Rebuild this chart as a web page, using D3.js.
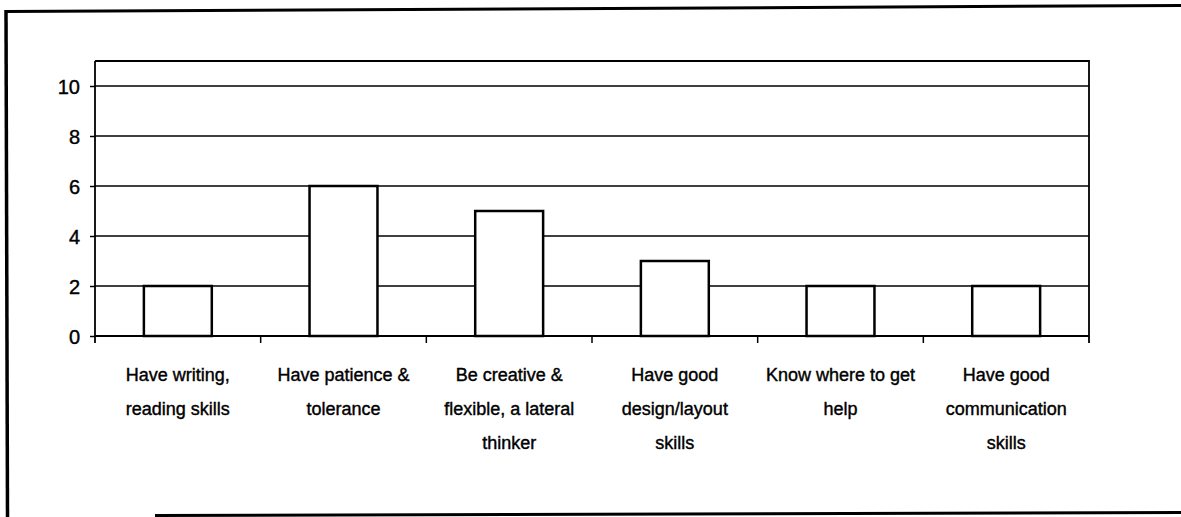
<!DOCTYPE html>
<html>
<head>
<meta charset="utf-8">
<script src="https://cdn.jsdelivr.net/npm/d3@7"></script>
<style>
  body { margin: 0; background: #fff; }
  svg { display: block; }
  text { font-family: "Liberation Sans", Arial, sans-serif; fill: #000; stroke: #000; stroke-width: 0.4px; }
</style>
</head>
<body>
<svg id="chart" width="1181" height="517"></svg>
<script>
// data
var categories = [
  'Have writing, reading skills',
  'Have patience & tolerance',
  'Be creative & flexible, a lateral thinker',
  'Have good design/layout skills',
  'Know where to get help',
  'Have good communication skills'
];
// how the labels wrap under each bar
var labelLines = [
  ['Have writing,', 'reading skills'],
  ['Have patience &', 'tolerance'],
  ['Be creative &', 'flexible, a lateral', 'thinker'],
  ['Have good', 'design/layout', 'skills'],
  ['Know where to get', 'help'],
  ['Have good', 'communication', 'skills']
];
var values = [2, 6, 5, 3, 2, 2];
var yTicks = [0, 2, 4, 6, 8, 10];

var svg = d3.select('#chart');

// outer frame (scanned page border)
svg.append('line')
  .attr('x1', 5).attr('y1', 11.5).attr('x2', 1181).attr('y2', 5.5)
  .attr('stroke', '#000').attr('stroke-width', 3);
svg.append('line')
  .attr('x1', 6).attr('y1', 10).attr('x2', 7.5).attr('y2', 517)
  .attr('stroke', '#000').attr('stroke-width', 3.5);
svg.append('line')
  .attr('x1', 155).attr('y1', 515.5).attr('x2', 1181).attr('y2', 512.5)
  .attr('stroke', '#000').attr('stroke-width', 3);

var plotLeft = 95, plotRight = 1089, plotTop = 61, plotBottom = 336;

var x = d3.scaleBand()
  .domain(categories)
  .range([plotLeft, plotRight])
  .paddingInner(0.59)
  .paddingOuter(0.295);

var y = d3.scaleLinear()
  .domain([0, 11])
  .range([plotBottom, plotTop]);

// gridlines
svg.append('g')
  .selectAll('line')
  .data(yTicks.filter(d => d > 0))
  .enter()
  .append('line')
  .attr('x1', plotLeft).attr('x2', plotRight)
  .attr('y1', d => y(d)).attr('y2', d => y(d))
  .attr('stroke', '#000')
  .attr('stroke-width', 1.5);

// plot area top and right edge
svg.append('path')
  .attr('d', 'M' + plotLeft + ',' + plotTop + 'H' + plotRight + 'V' + (plotBottom + 7))
  .attr('fill', 'none')
  .attr('stroke', '#000')
  .attr('stroke-width', 1.8);

// bars
svg.append('g')
  .selectAll('rect')
  .data(values)
  .enter()
  .append('rect')
  .attr('x', (d, i) => x(categories[i]))
  .attr('y', d => y(d))
  .attr('width', x.bandwidth())
  .attr('height', d => y(0) - y(d))
  .attr('fill', '#fff')
  .attr('stroke', '#000')
  .attr('stroke-width', 2.5);

// y axis
var yAxis = svg.append('g')
  .attr('transform', 'translate(' + plotLeft + ',0)')
  .call(d3.axisLeft(y).tickValues(yTicks).tickSize(5).tickPadding(10).tickSizeOuter(0));
yAxis.select('.domain').remove();
yAxis.append('line')
  .attr('x1', 0).attr('x2', 0)
  .attr('y1', plotTop).attr('y2', plotBottom + 7)
  .attr('stroke', '#000').attr('stroke-width', 1.8);
yAxis.selectAll('.tick line').attr('stroke', '#000').attr('stroke-width', 1.5);
yAxis.selectAll('.tick text')
  .style('font-size', '20px')
  .attr('dy', '0.36em');

// x axis line and category boundary ticks
svg.append('line')
  .attr('x1', plotLeft).attr('x2', plotRight)
  .attr('y1', y(0)).attr('y2', y(0))
  .attr('stroke', '#000').attr('stroke-width', 2);

var step = x.step();
svg.append('g')
  .selectAll('line')
  .data(d3.range(1, categories.length))
  .enter()
  .append('line')
  .attr('x1', d => plotLeft + d * step)
  .attr('x2', d => plotLeft + d * step)
  .attr('y1', y(0)).attr('y2', y(0) + 7)
  .attr('stroke', '#000').attr('stroke-width', 1.5);

// category labels
var labels = svg.append('g')
  .selectAll('text')
  .data(labelLines)
  .enter()
  .append('text')
  .attr('text-anchor', 'middle')
  .style('font-size', '18px')
  .attr('transform', (d, i) => 'translate(' + (x(categories[i]) + x.bandwidth() / 2) + ',381)');

labels.selectAll('tspan')
  .data(d => d)
  .enter()
  .append('tspan')
  .attr('x', 0)
  .attr('y', (d, i) => i * 34)
  .text(d => d);
</script>
</body>
</html>
